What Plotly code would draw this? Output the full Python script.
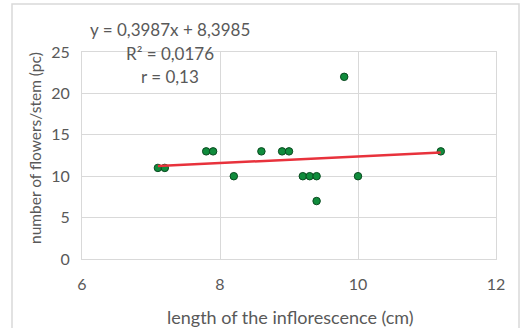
import plotly.graph_objects as go

# Data
inflorescence_cm = [7.1, 7.2, 7.8, 7.9, 8.2, 8.6, 8.9, 9.0, 9.8, 9.2, 9.3, 9.4, 9.4, 10.0, 11.2]
flowers_per_stem = [11, 11, 13, 13, 10, 13, 13, 13, 22, 10, 10, 10, 7, 10, 13]

slope = 0.3987
intercept = 8.3985
trend_x = [min(inflorescence_cm), max(inflorescence_cm)]
trend_y = [slope * v + intercept for v in trend_x]

equation_lines = ["y = 0,3987x + 8,3985", "R² = 0,0176", "r = 0,13"]
x_ticks = [6, 8, 10, 12]
y_ticks = [0, 5, 10, 15, 20, 25]

FONT = "Lato"
GREY = "#595959"
GRID = "#d9d9d9"

fig = go.Figure()
fig.add_trace(go.Scatter(
    x=inflorescence_cm, y=flowers_per_stem, mode="markers",
    marker=dict(size=7.5, color="#108c3c", line=dict(color="#0a4a20", width=1)),
    showlegend=False, hoverinfo="skip"))
fig.add_trace(go.Scatter(
    x=trend_x, y=trend_y, mode="lines",
    line=dict(color="#e8323c", width=2.5),
    showlegend=False, hoverinfo="skip"))

W, H = 520, 328
L, R, T, B = 82, 24, 52, 69
pw, ph = W - L - R, H - T - B

def px_to_paper_x(px):
    return (px - L) / pw

def px_to_paper_y(py):
    return (H - B - py) / ph

fig.update_layout(
    width=W, height=H,
    margin=dict(l=L, r=R, t=T, b=B),
    paper_bgcolor="white", plot_bgcolor="white",
    font=dict(family=FONT, color=GREY, size=16),
    xaxis=dict(range=[6, 12], tickvals=x_ticks, showgrid=True, gridcolor=GRID,
               gridwidth=1, zeroline=False, showline=True, linecolor=GRID,
               mirror=True, ticks="", ticklabelstandoff=11,
               tickfont=dict(family=FONT, size=16, color=GREY)),
    yaxis=dict(range=[0, 25], tickvals=y_ticks, showgrid=True, gridcolor=GRID,
               gridwidth=1, zeroline=False, showline=True, linecolor=GRID,
               mirror=True, ticks="", ticklabelstandoff=8,
               tickfont=dict(family=FONT, size=16, color=GREY)),
)

# outer chart border
fig.add_shape(type="rect", xref="paper", yref="paper",
              x0=px_to_paper_x(12), x1=px_to_paper_x(519),
              y0=px_to_paper_y(340), y1=px_to_paper_y(4),
              line=dict(color="#d9d9d9", width=1.5), fillcolor="rgba(0,0,0,0)",
              layer="below")

# equation text
for line_text, cy in zip(equation_lines, [30, 53, 76]):
    fig.add_annotation(text=line_text, xref="paper", yref="paper",
                       x=px_to_paper_x(170), y=px_to_paper_y(cy),
                       xanchor="center", yanchor="middle", showarrow=False,
                       font=dict(family=FONT, size=17, color=GREY))

# axis titles
fig.add_annotation(text="length of the inflorescence (cm)", xref="paper", yref="paper",
                   x=px_to_paper_x(290), y=px_to_paper_y(317),
                   xanchor="center", yanchor="middle", showarrow=False,
                   font=dict(family=FONT, size=18, color=GREY))
fig.add_annotation(text="number of flowers/stem (pc)", xref="paper", yref="paper",
                   x=px_to_paper_x(35), y=px_to_paper_y(148), textangle=-90,
                   xanchor="center", yanchor="middle", showarrow=False,
                   font=dict(family=FONT, size=15.5, color=GREY))

fig.write_html("out.html", config={"displayModeBar": False},
               post_script="document.body.style.margin='0';document.body.style.overflow='hidden';")
